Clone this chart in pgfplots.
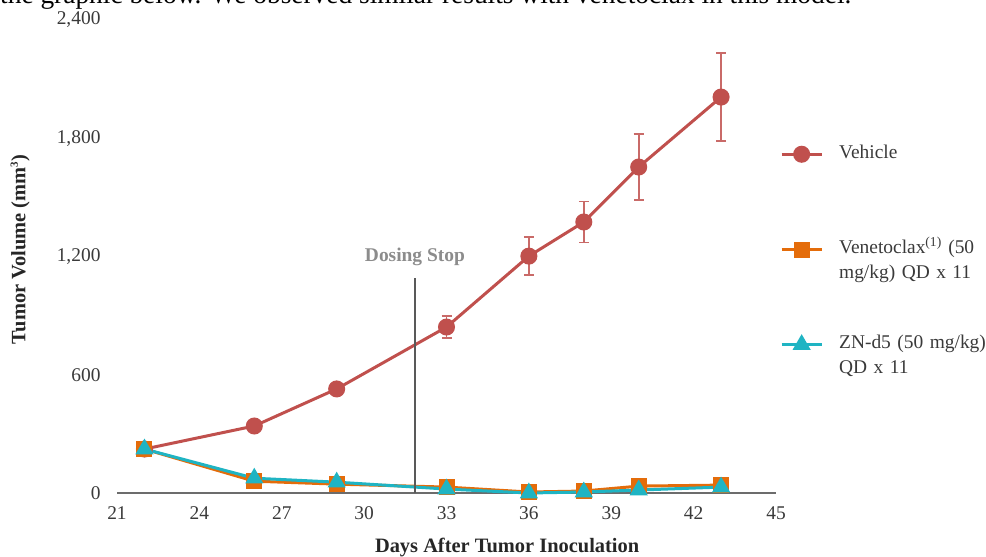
\documentclass[border=0pt]{standalone}
\usepackage{fontspec}
\setmainfont{Liberation Serif}
\usepackage{pgfplots}
\pgfplotsset{compat=1.18}
\definecolor{vehc}{HTML}{C0504D}
\definecolor{venc}{HTML}{E46C0A}
\definecolor{znc}{HTML}{1FB4C3}
\definecolor{tickc}{HTML}{3A3A3A}
\begin{document}
\begin{tikzpicture}
\useasboundingbox (0bp,0bp) rectangle (986bp,557bp);
\clip (0bp,0bp) rectangle (986bp,557bp);
\node[anchor=base west, inner sep=0pt, font=\fontsize{27.5}{32}\selectfont] at (0bp,553.5bp) {the graphic below. We observed similar results with venetoclax in this model.};
\begin{axis}[
  at={(117bp,64bp)}, anchor=south west,
  scale only axis, width=659bp, height=473bp,
  xmin=21, xmax=45, ymin=0, ymax=2400,
  clip=false,
  axis x line*=bottom, axis y line*=left,
  x axis line style={draw=gray!85!black, line width=2bp, -},
  y axis line style={draw=none},
  xtick={21,24,...,45}, ytick={0,600,...,2400},
  major tick length=0pt,
  /pgf/number format/1000 sep={,},
  /pgf/number format/assume math mode=true,
  tick label style={font=\fontsize{19.5}{22}\selectfont, text=tickc},
  xticklabel style={yshift=-10bp},
  yticklabel style={xshift=-13bp},
  xlabel={Days After Tumor Inoculation},
  ylabel={Tumor Volume (mm\textsuperscript{\fontsize{11}{12}\selectfont 3})},
  label style={font=\bfseries\fontsize{20.5}{24}\selectfont, text=black!85},
  xlabel style={at={(axis description cs:0.592,-0.116)}, anchor=center},
  ylabel style={at={(axis description cs:-0.147,0.515)}, anchor=center, rotate=0},
  legend style={at={(axis description cs:1.006,0.745)}, anchor=north west, draw=none, fill=none,
    inner sep=0pt, row sep=75bp, column sep=16bp,
    font=\fontsize{19.5}{25}\selectfont, text=tickc,
    cells={anchor=base west},
    nodes={text width=160bp, inner sep=0pt, align=left}},
  legend image code/.code={\draw[mark repeat=2, mark phase=2, #1, yshift=4bp] plot coordinates {(0bp,0bp) (20bp,0bp) (40bp,0bp)};},
]
\addplot[vehc, line width=3bp, mark=*, mark size=7bp, mark options={solid},
  error bars/.cd, y dir=both, y explicit,
  error bar style={line width=1.6bp, color=vehc!85},
  error mark options={rotate=90, mark size=5bp, line width=1.6bp, color=vehc!85}]
  coordinates {
  (22,223) +- (0,8)
  (26,340) +- (0,14)
  (29,528) +- (0,20)
  (33,842) +- (0,56)
  (36,1202) +- (0,96)
  (38,1375) +- (0,104)
  (40,1654) +- (0,167)
  (43,2009) +- (0,223)
  };
\addlegendentry{Vehicle\strut\\\strut}
\addplot[venc, line width=3bp, mark=square*, mark size=6.5bp]
  coordinates {
  (22,223) (26,60) (29,45) (33,30) (36,5) (38,10) (40,35) (43,40)
  };
\addlegendentry{Venetoclax\textsuperscript{(1)} (50\strut\\mg/kg) QD x 11\strut}
\addplot[znc, line width=3bp, mark=triangle*, mark size=7.5bp]
  coordinates {
  (22,223) (26,75) (29,55) (33,20) (36,0) (38,5) (40,15) (43,30)
  };
\addlegendentry{ZN-d5 (50 mg/kg)\strut\\QD x 11\strut}
\addplot[forget plot, draw=gray!70!black, line width=1.6bp] coordinates {(31.85,0) (31.85,1091)};
\node[font=\bfseries\fontsize{19.5}{22}\selectfont, text=gray!90] at (axis cs:31.85,1197) {Dosing Stop};
\end{axis}
\end{tikzpicture}
\end{document}
